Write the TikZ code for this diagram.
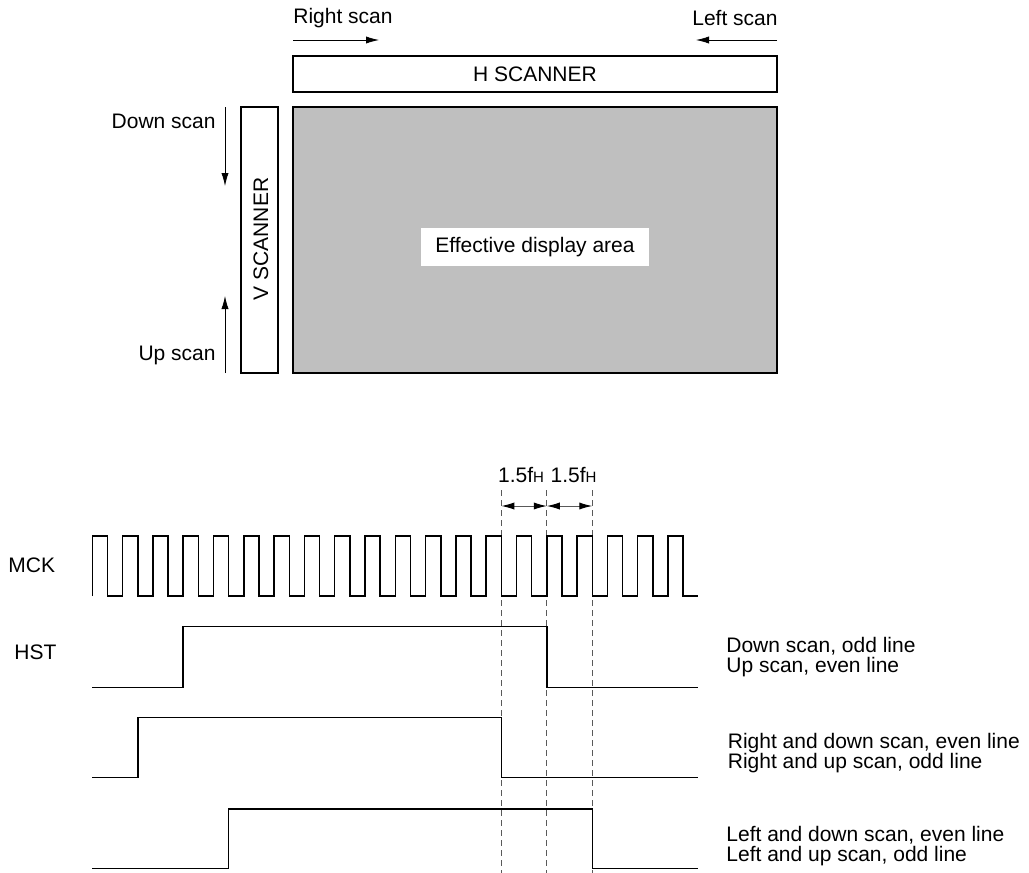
\documentclass[tikz,border=0pt]{standalone}
\usepackage{fontspec}
\setmainfont{Liberation Sans}
\usetikzlibrary{arrows.meta}
\definecolor{areagray}{gray}{0.75}
\tikzstyle{sA}=[every edge/.style={draw,line width=0.4pt,-{Latex[length=6.5pt,width=3.6pt]}}]
\tikzstyle{dimA}=[every edge/.style={draw,black!65,line width=0.5pt,
                {Latex[length=6.5pt,width=3.6pt,color=black]}-{Latex[length=6.5pt,width=3.6pt,color=black]}}]
\tikzstyle{Abox}=[draw,line width=0.6pt,inner sep=0]
\tikzstyle{lbl}=[inner sep=0,text=black]
\tikzstyle{guide}=[black!65,line width=0.5pt,dash pattern=on 3pt off 2pt]
\tikzstyle{wave}=[line width=0.75pt,line join=miter]

\begin{document}
\begin{tikzpicture}[x=0.5pt,y=-0.5pt,font=\fontsize{10.5}{10}\selectfont]
  \useasboundingbox (0,0) rectangle (1029,873);
  % panel and scanners
  \node[Abox,minimum width=242pt,minimum height=18pt] (hscan) at (535,74) {H SCANNER};
  \node[Abox,fill=areagray,minimum width=242pt,minimum height=133pt] (area) at (535,240) {};
  \node[lbl,fill=white,minimum width=114pt,minimum height=19pt] (arealbl) at (535,247) {Effective display area};
  \node[Abox,minimum width=18.5pt,minimum height=133pt] (vscan) at (259.5,240) {};
  \node[lbl,rotate=90] (vscanlbl) at (261,239) {V SCANNER};
  % scan directions
  \node[lbl,anchor=west] (rlbl) at (293,18) {Right scan};
  \node[lbl,anchor=east] (llbl) at (778,18) {Left scan};
  \node[lbl,anchor=east] (dlbl) at (216,121) {Down scan};
  \node[lbl,anchor=east] (ulbl) at (216,355) {Up scan};
  \coordinate (r0) at (293,40);  \coordinate (r1) at (379,40);
  \coordinate (l0) at (777,40);  \coordinate (l1) at (696,40);
  \coordinate (d0) at (225,107); \coordinate (d1) at (225,186);
  \coordinate (u0) at (225,373); \coordinate (u1) at (225,296);
  \path[sA] (r0) edge (r1) (l0) edge (l1) (d0) edge (d1) (u0) edge (u1);

  % timing
  \node[lbl,anchor=west] (mck) at (8,565) {MCK};
  \node[lbl,anchor=west] (hst) at (14,652) {HST};
  \node[lbl] (fh1) at (521,475) {1.5f{\fontsize{7.5}{8}\selectfont H}};
  \node[lbl] (fh2) at (573.5,475) {1.5f{\fontsize{7.5}{8}\selectfont H}};
  \foreach \n/\x in {g1/501.35,g2/546.8,g3/592.25} {
    \coordinate (\n t) at (\x,490);
    \coordinate (\n b) at (\x,873);
    \coordinate (\n m) at (\x,506);
    \draw[guide] (\n t) -- (\n b);
  }
  \path[dimA] (g1m) edge (g2m) (g2m) edge (g3m);
  \draw[wave] (92.3,596) \foreach \k in {0,...,19} {
      -- ++(0,-60) -- ++(15.15,0) -- ++(0,60) -- ++(15.15,0)};
  \draw[wave] (92.3,687.3) -- (183.2,687.3) -- (183.2,626.7) -- (546.8,626.7)
     -- (546.8,687.3) -- (698.3,687.3);
  \draw[wave] (92.3,777.7) -- (137.75,777.7) -- (137.75,717.7) -- (501.35,717.7)
     -- (501.35,777.7) -- (698.3,777.7);
  \draw[wave] (92.3,868.7) -- (228.7,868.7) -- (228.7,809) -- (592.25,809)
     -- (592.25,868.7) -- (698.3,868.7);
  \node[lbl,anchor=west,align=left] (c1) at (726,657) {Down scan, odd line\\Up scan, even line};
  \node[lbl,anchor=west,align=left] (c2) at (727.5,753.5) {Right and down scan, even line\\Right and up scan, odd line};
  \node[lbl,anchor=west,align=left] (c3) at (726,846) {Left and down scan, even line\\Left and up scan, odd line};
\end{tikzpicture}
\end{document}
